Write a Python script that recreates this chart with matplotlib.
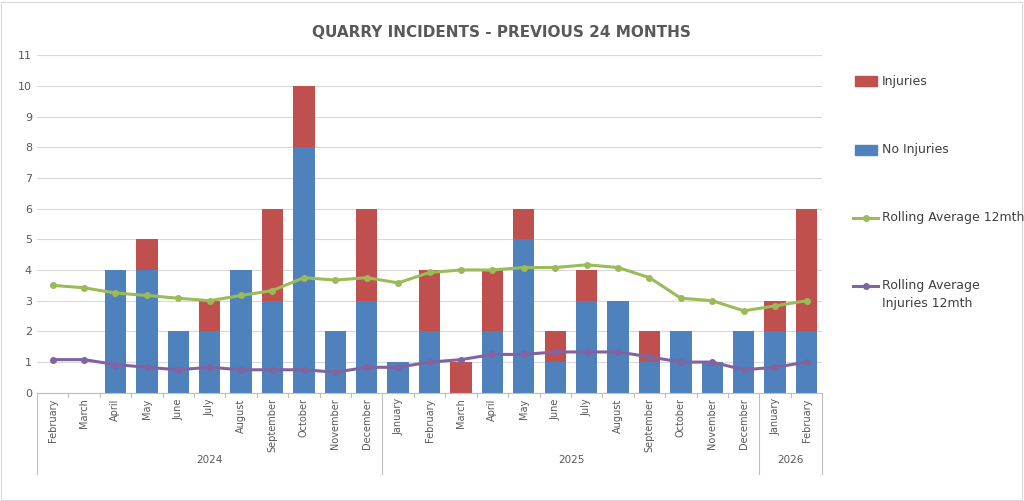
import matplotlib
matplotlib.use("Agg")
import matplotlib.pyplot as plt
from matplotlib.patches import Rectangle
from matplotlib.lines import Line2D

months = ["February","March","April","May","June","July","August","September","October","November","December",
          "January","February","March","April","May","June","July","August","September","October","November","December",
          "January","February"]
years = [("2024", 0, 11), ("2025", 11, 23), ("2026", 23, 25)]
no_inj = [0,0,4,4,2,2,4,3,8,2,3,1,2,0,2,5,1,3,3,1,2,1,2,2,2]
inj = [0,0,0,1,0,1,0,3,2,0,3,0,2,1,2,1,1,1,0,1,0,0,0,1,4]
roll = [3.5,3.42,3.25,3.17,3.08,3.0,3.17,3.33,3.75,3.67,3.75,3.58,3.92,4.0,4.0,4.08,4.08,4.17,4.08,3.75,3.08,3.0,2.67,2.83,3.0]
roll_inj = [1.08,1.08,0.92,0.83,0.75,0.83,0.75,0.75,0.75,0.67,0.83,0.83,1.0,1.08,1.25,1.25,1.33,1.33,1.33,1.17,1.0,1.0,0.75,0.83,1.0]

blue, red, green, purple = "#4F81BD", "#C0504D", "#9BBB59", "#8064A2"
fig = plt.figure(figsize=(10.24, 5.01), dpi=100)
ax = fig.add_axes([0.036, 0.216, 0.767, 0.674])
x = list(range(len(months)))
ax.bar(x, no_inj, width=0.68, color=blue, zorder=2)
ax.bar(x, inj, bottom=no_inj, width=0.68, color=red, zorder=2)
ax.plot(x, roll, color=green, lw=2.2, marker="o", ms=4, zorder=3)
ax.plot(x, roll_inj, color=purple, lw=2.2, marker="o", ms=4, zorder=3)
ax.set_xlim(-0.5, len(months)-0.5)
ax.set_ylim(0, 11)
ax.set_yticks(range(12))
ax.tick_params(axis="y", length=0, labelsize=8, colors="#595959")
ax.grid(axis="y", color="#D9D9D9", lw=0.8, zorder=0)
for s in ["top","right","left"]:
    ax.spines[s].set_visible(False)
ax.spines["bottom"].set_color("#BFBFBF")
ax.set_xticks(x)
ax.set_xticklabels(months, rotation=90, fontsize=7, color="#595959")
ax.tick_params(axis="x", length=0, pad=4)
for b in range(len(months)+1):
    xb = b - 0.5
    long = b in (0, 11, 23, 25)
    ax.add_line(Line2D([xb, xb], [0, -2.65 if long else -0.15], color="#BFBFBF", lw=0.8, clip_on=False))
for name, a, b in years:
    ax.text((a+b-1)/2, -2.2, name, ha="center", va="center", fontsize=7.5, color="#595959")
fig.text(0.49, 0.935, "QUARRY INCIDENTS - PREVIOUS 24 MONTHS", ha="center", va="center",
         fontsize=11, fontweight="bold", color="#595959")
items = [(81, "Injuries", red, "patch"), (150, "No Injuries", blue, "patch"),
         (218, "Rolling Average 12mth", green, "line"), (295, "Rolling Average\nInjuries 12mth", purple, "line")]
for ypx, label, c, kind in items:
    yf = 1 - ypx/501
    if kind == "patch":
        fig.patches.append(Rectangle((855/1024, yf-0.009), 22/1024, 0.018, color=c, transform=fig.transFigure))
        ty = yf
    else:
        yy = 1 - (286 if "Injuries" in label else 218)/501
        fig.lines.append(Line2D([853/1024, 878/1024], [yy, yy], color=c, lw=2.2, transform=fig.transFigure))
        fig.lines.append(Line2D([865.5/1024], [yy], color=c, marker="o", ms=4, transform=fig.transFigure))
        ty = yf
    fig.text(882/1024, ty, label, va="center", fontsize=9, color="#404040", linespacing=1.5)
fig.patches.append(Rectangle((0.001, 0.002), 0.997, 0.995, fill=False, ec="#D9D9D9", lw=0.8,
                             transform=fig.transFigure))
fig.savefig("out.png", dpi=100)
